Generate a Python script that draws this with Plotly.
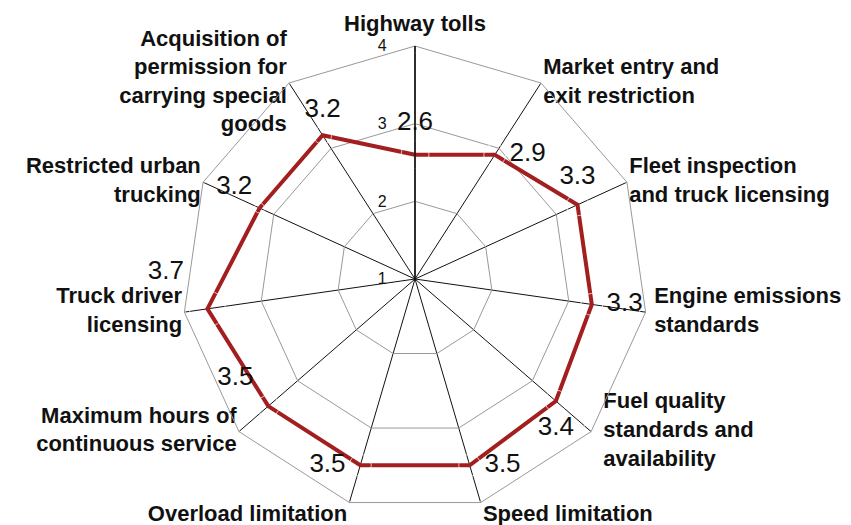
import plotly.graph_objects as go

categories = [
    "Highway tolls",
    "Market entry and<br>exit restriction",
    "Fleet inspection<br>and truck licensing",
    "Engine emissions<br>standards",
    "Fuel quality<br>standards and<br>availability",
    "Speed limitation",
    "Overload limitation",
    "Maximum hours of<br>continuous service",
    "Truck driver<br>licensing",
    "Restricted urban<br>trucking",
    "Acquisition of<br>permission for<br>carrying special<br>goods",
]
scores = [2.6, 2.9, 3.3, 3.3, 3.4, 3.5, 3.5, 3.5, 3.7, 3.2, 3.2]
radial_ticks = [1, 2, 3, 4]
r_max = 4

# label placement (textposition + invisible marker size sets the gap)
value_pos = ["top center", "middle right", "top center", "middle right", "bottom center",
             "middle right", "middle left", "top left", "top left", "top left", "top center"]
value_gap = [28, 22, 22, 22, 22, 22, 22, 22, 36, 10, 18]
cat_pos = ["top center", "middle right", "middle right", "middle right", "middle right",
           "bottom right", "bottom left", "middle left", "middle left", "middle left", "middle left"]
cat_gap = [14, 2, 2, 12, 18, 2, 2, 2, 2, 2, 2]

fig = go.Figure()

# closed outline
fig.add_trace(go.Scatterpolar(
    r=scores + scores[:1], theta=categories + categories[:1], mode="lines",
    line=dict(color="#A31F1F", width=4),
    showlegend=False, hoverinfo="skip",
))

# value labels
fig.add_trace(go.Scatterpolar(
    r=scores, theta=categories, mode="markers+text",
    marker=dict(size=value_gap, color="rgba(0,0,0,0)"),
    text=[f"{v:.1f}" for v in scores], textposition=value_pos,
    textfont=dict(family="Liberation Sans, Arial", size=26, color="#111"),
    showlegend=False, cliponaxis=False,
))

# category labels at the outer ring, Excel style
fig.add_trace(go.Scatterpolar(
    r=[r_max] * len(categories), theta=categories, mode="markers+text",
    marker=dict(size=cat_gap, color="rgba(0,0,0,0)"),
    text=categories, textposition=cat_pos,
    textfont=dict(family="Liberation Sans, Arial", size=22, weight="bold", color="#111"),
    showlegend=False, cliponaxis=False, hoverinfo="skip",
))

fig.update_layout(
    width=851, height=525,
    margin=dict(l=174, r=211, t=38, b=21),
    paper_bgcolor="white",
    font=dict(family="Liberation Sans, Arial", color="#111"),
    polar=dict(
        bgcolor="white",
        gridshape="linear",
        angularaxis=dict(
            direction="clockwise", rotation=90,
            gridcolor="#111", gridwidth=1,
            showline=True, linecolor="#999", linewidth=1,
            ticks="", showticklabels=False,
        ),
        radialaxis=dict(
            range=[1, r_max], tickvals=radial_ticks, angle=90, side="counterclockwise",
            tickangle=90,
            gridcolor="#999", gridwidth=1,
            showline=True, linecolor="#111", linewidth=1.5,
            ticks="outside", ticklen=22, tickcolor="rgba(0,0,0,0)",
            tickfont=dict(size=16, color="#111"),
        ),
    ),
)

fig.write_html("out.html")
